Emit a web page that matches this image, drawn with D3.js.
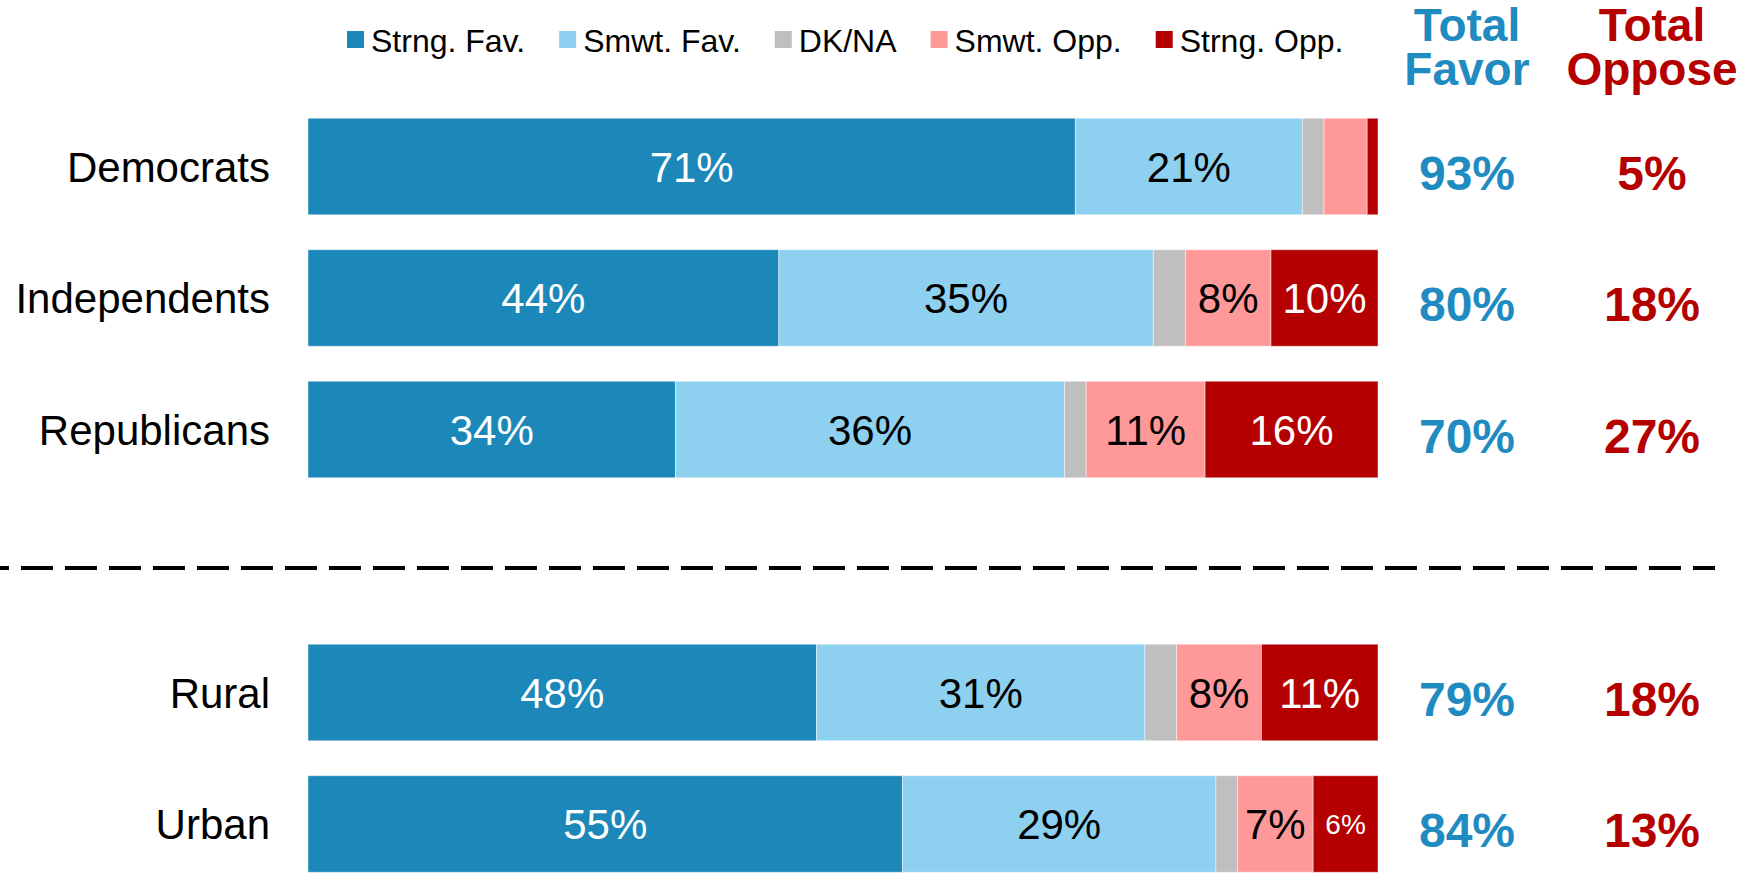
<!DOCTYPE html>
<html>
<head>
<meta charset="utf-8">
<script src="https://cdn.jsdelivr.net/npm/d3@7"></script>
<style>
  html, body { margin: 0; padding: 0; background: #fff; }
  svg { display: block; font-family: "Liberation Sans", Arial, sans-serif; }
</style>
</head>
<body>
<div id="chart"></div>
<script>
// ---- data (percent) ----
const rows = ['Democrats', 'Independents', 'Republicans', 'Rural', 'Urban'];
const slots = ['Democrats', 'Independents', 'Republicans', 'gap', 'Rural', 'Urban'];
const seriesKeys = ['strngFav', 'smwtFav', 'dkNa', 'smwtOpp', 'strngOpp'];
const seriesNames = ['Strng. Fav.', 'Smwt. Fav.', 'DK/NA', 'Smwt. Opp.', 'Strng. Opp.'];
const seriesColors = ['#1c87b9', '#8ed0ef', '#bfbfbf', '#ff9999', '#b40000'];
const labelColors = ['#fff', '#000', '#000', '#000', '#fff'];

const strngFav = [71, 44, 34, 48, 55];
const smwtFav = [21, 35, 36, 31, 29];
const dkNa = [2, 3, 2, 3, 2];
const smwtOpp = [4, 8, 11, 8, 7];
const strngOpp = [1, 10, 16, 11, 6];

const totalFavor = [93, 80, 70, 79, 84];
const totalOppose = [5, 18, 27, 18, 13];

const favorColor = '#1f8bc0';
const opposeColor = '#b50000';

// ---- layout ----
const W = 1744, H = 873;
const barLeft = 308, barRight = 1378;
const favorX = 1467, opposeX = 1652;

const table = rows.map((r, i) => ({
  row: r,
  strngFav: strngFav[i],
  smwtFav: smwtFav[i],
  dkNa: dkNa[i],
  smwtOpp: smwtOpp[i],
  strngOpp: strngOpp[i],
}));

const stack = d3.stack().keys(seriesKeys).offset(d3.stackOffsetExpand);
const stacked = stack(table);

const x = d3.scaleLinear().domain([0, 1]).range([barLeft, barRight]);
const y = d3.scaleBand()
  .domain(slots)
  .range([100.75, 889.75])
  .paddingInner(0.266)
  .paddingOuter(0.133);

const svg = d3.select('#chart').append('svg')
  .attr('width', W)
  .attr('height', H);

/* ---------------- BARS ---------------- */
const layers = svg.append('g')
  .selectAll('g.layer')
  .data(stacked)
  .join('g')
  .attr('class', 'layer')
  .attr('fill', (d, i) => seriesColors[i]);

layers.selectAll('rect')
  .data(d => d.map(s => ({ s, key: d.key })))
  .join('rect')
  .attr('x', d => x(d.s[0]))
  .attr('y', d => y(d.s.data.row))
  .attr('width', d => x(d.s[1]) - x(d.s[0]))
  .attr('height', y.bandwidth())
  .attr('stroke', '#fff')
  .attr('stroke-opacity', 0.45)
  .attr('stroke-width', 1);

/* ---------------- SEGMENT LABELS ---------------- */
stacked.forEach((layer, li) => {
  layer.forEach(seg => {
    const v = seg.data[layer.key];
    if (v < 5) return;
    const w = x(seg[1]) - x(seg[0]);
    const t = svg.append('text')
      .attr('x', (x(seg[0]) + x(seg[1])) / 2)
      .attr('y', y(seg.data.row) + y.bandwidth() / 2)
      .attr('dy', '0.36em')
      .attr('text-anchor', 'middle')
      .attr('fill', labelColors[li])
      .attr('font-size', 42)
      .text(v + '%');
    if (t.node().getComputedTextLength() > w - 6) t.attr('font-size', 28);
  });
});

/* ---------------- ROW LABELS ---------------- */
svg.append('g')
  .selectAll('text')
  .data(rows)
  .join('text')
  .attr('x', 270)
  .attr('y', d => y(d) + y.bandwidth() / 2)
  .attr('dy', '0.36em')
  .attr('text-anchor', 'end')
  .attr('font-size', 42)
  .attr('fill', '#000')
  .text(d => d);

/* ---------------- TOTALS ---------------- */
const totals = svg.append('g').attr('font-weight', 'bold').attr('font-size', 48).attr('text-anchor', 'middle');
totals.selectAll('text.fav')
  .data(rows)
  .join('text')
  .attr('class', 'fav')
  .attr('x', favorX)
  .attr('y', d => y(d) + y.bandwidth() / 2 + 6)
  .attr('dy', '0.36em')
  .attr('fill', favorColor)
  .text((d, i) => totalFavor[i] + '%');
totals.selectAll('text.opp')
  .data(rows)
  .join('text')
  .attr('class', 'opp')
  .attr('x', opposeX)
  .attr('y', d => y(d) + y.bandwidth() / 2 + 6)
  .attr('dy', '0.36em')
  .attr('fill', opposeColor)
  .text((d, i) => totalOppose[i] + '%');

// headers
[[favorX, favorColor, ['Total', 'Favor']], [opposeX, opposeColor, ['Total', 'Oppose']]].forEach(h => {
  const t = svg.append('text')
    .attr('text-anchor', 'middle')
    .attr('font-weight', 'bold')
    .attr('font-size', 46)
    .attr('fill', h[1]);
  h[2].forEach((line, i) => {
    t.append('tspan').attr('x', h[0]).attr('y', 41 + i * 44).text(line);
  });
});

/* ---------------- LEGEND ---------------- */
const legend = svg.append('g');
let lx = 347;
seriesNames.forEach((name, i) => {
  legend.append('rect')
    .attr('x', lx)
    .attr('y', 31)
    .attr('width', 17)
    .attr('height', 17)
    .attr('fill', seriesColors[i]);
  const t = legend.append('text')
    .attr('x', lx + 24)
    .attr('y', 40)
    .attr('dy', '0.36em')
    .attr('font-size', 32)
    .attr('fill', '#000')
    .text(name);
  lx += 24 + t.node().getComputedTextLength() + 34;
});

/* ---------------- DIVIDER ---------------- */
const gapY = y('gap') + y.bandwidth() / 2 + 7;
svg.append('line')
  .attr('x1', 0)
  .attr('x2', 1715)
  .attr('y1', gapY)
  .attr('y2', gapY)
  .attr('stroke', '#000')
  .attr('stroke-width', 4)
  .attr('stroke-dasharray', '32,12')
  .attr('stroke-dashoffset', 23);
</script>
</body>
</html>
